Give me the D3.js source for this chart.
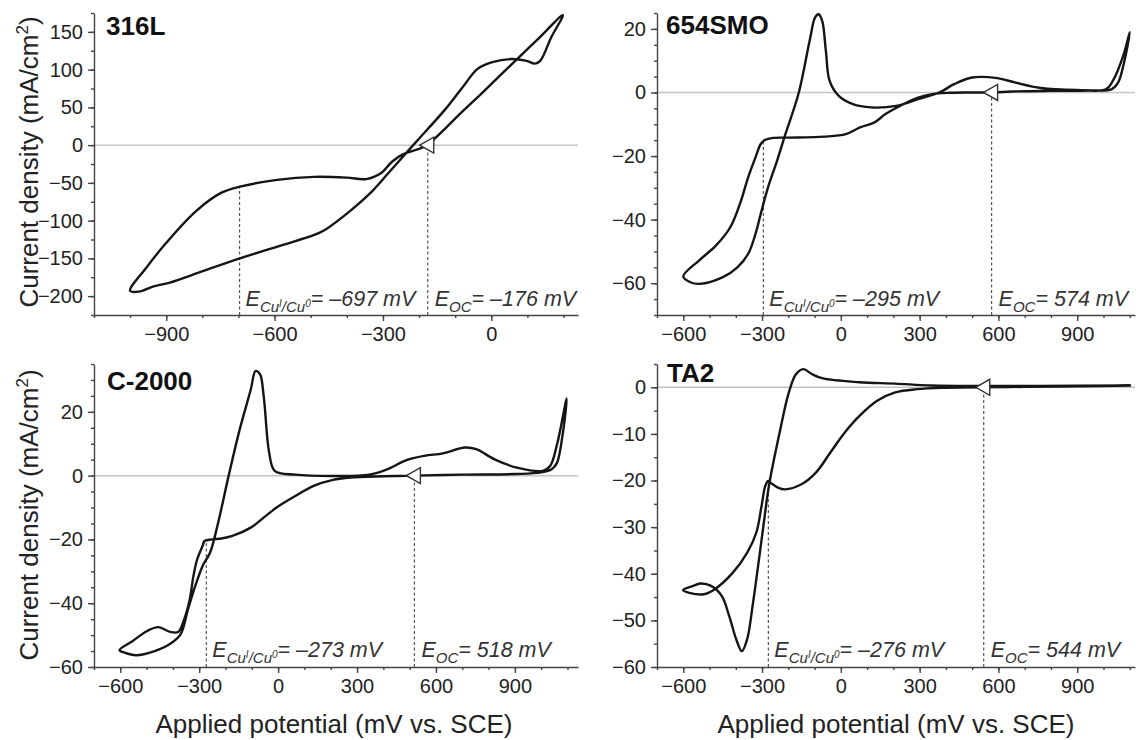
<!DOCTYPE html>
<html>
<head>
<meta charset="utf-8">
<script src="https://cdn.jsdelivr.net/npm/d3@7"></script>
<style>
  body { margin: 0; background: #fff; }
  svg { display: block; }
  text { font-family: Arial, "Liberation Sans", Helvetica, sans-serif; }
</style>
</head>
<body>
<svg width="1137" height="740"></svg>
<script>
// ---- data ----
var panelNames = ["316L", "654SMO", "C-2000", "TA2"];
var eCuValues = [-697, -295, -273, -276];       // mV
var eCuCurrents = [-55, -15, -20.5, -20.3];     // where the dashed line meets the curve
var eOcValues = [-176, 574, 518, 544];          // mV

var potential316L = [-176, -200, -244, -275, -305, -346, -400, -490, -593, -696, -747, -819, -901, -953, -1000,
  -976, -935, -890, -799, -696, -583, -490, -460, -388, -336, -285, -233, -203, -130, -79, -38, 3, 54, 95, 121, 136, 166, 198,
  126, 54, -28, -79, -130, -176];
var current316L = [0, -5, -12, -22, -37, -45, -43, -42, -46, -55, -63, -88, -130, -161, -193,
  -194, -187, -182, -167, -150, -133, -119, -112, -86, -64, -37, -9, 7, 46, 77, 101, 110, 114, 112, 108, 112, 143, 172,
  139, 106, 68, 45, 21, 0];

var potential654SMO = [574, 487, 417, 349, 294, 238, 170, 128, 73, 19, -64, -200, -257, -290, -305, -325, -353, -380, -421, -476, -538, -600,
  -573, -538, -449, -394, -353, -325, -305, -277, -243, -215, -160, -119, -98, -85, -71, -57, -43, -9, 46, 115, 211, 294, 376, 431, 500,
  596, 665, 761, 899, 1009, 1036, 1077, 1100, 1080, 1055, 1030, 950, 800, 650, 574];
var current654SMO = [0, 0, -0.1, -0.5, -1.6, -3.7, -6.8, -9.4, -11, -13.1, -13.9, -14.2, -14.3, -15, -16.2, -20.4, -26.7, -34, -42.4, -48.2, -52.7, -57.9,
  -59.7, -60.2, -58.1, -55, -50.8, -44.5, -38.2, -29.8, -21.5, -14.1, 0, 16.2, 23.6, 24.6, 22.5, 13.1, 3.7, -1, -3.7, -4.7, -4.2, -2.1, 0, 2.6, 4.7,
  4.5, 3.1, 1.4, 0.8, 1.0, 3.7, 12, 19, 10, 3, 1, 0.6, 0.5, 0.3, 0];

var potentialC2000 = [518, 400, 275, 205, 135, 65, -6, -48, -104, -174, -216, -252, -280, -287, -308, -322, -336, -357, -380, -410, -455, -498, -554, -603,
  -584, -540, -469, -413, -371, -343, -315, -287, -259, -231, -188, -146, -104, -86, -69, -55, -34, -13, 65, 205, 346, 415, 486, 556, 627, 710,
  753, 823, 908, 1006, 1034, 1062, 1097, 1080, 1060, 1040, 1000, 900, 700, 518];
var currentC2000 = [0, -0.2, -0.6, -1.4, -3.2, -6.4, -10, -12.7, -16.3, -18.9, -19.7, -20, -20.5, -22, -26.3, -31.5, -38.8, -45, -49, -49, -47.5, -48.7, -51.9, -54.7,
  -55.5, -56.3, -55, -52.9, -49.8, -42, -34.6, -28.3, -24.2, -15.8, 0, 14.5, 27, 32.8, 31.8, 25, 7.2, 1.5, 0.3, -0.1, 0.3, 2, 4.8, 6.2, 7, 8.8,
  8.3, 5.1, 2.5, 1.5, 3, 10.4, 24.2, 12, 4, 2, 1, 0.5, 0.3, 0];

var potentialTA2 = [544, 400, 290, 207, 138, 70, 15, -40, -95, -150, -212, -240, -267, -277, -288, -302, -322, -357, -412, -480, -522, -577, -601,
  -563, -535, -494, -453, -425, -398, -377, -357, -336, -315, -295, -274, -233, -198, -171, -143, -109, -68, 70, 207, 345, 544, 757, 1101,
  900, 700, 544];
var currentTA2 = [0, -0.1, -0.4, -1.1, -2.9, -6.2, -9.7, -14, -18.3, -20.8, -21.9, -21.5, -20.5, -20.1, -21.2, -25.5, -31.2, -35.5, -39.8, -43.3, -44.4, -44.1, -43.5,
  -42.6, -42.1, -42.6, -44.8, -49.1, -54.1, -56.6, -54.1, -46.9, -38.3, -29.8, -21.2, -9.7, -1.1, 2.8, 3.9, 2.8, 1.9, 1.1, 0.8, 0.4, 0.3, 0.3, 0.4,
  0.2, 0.1, 0];

var xTicks316L = [-900, -600, -300, 0];
var xTicksOther = [-600, -300, 0, 300, 600, 900];
var yTicks316L = [-200, -150, -100, -50, 0, 50, 100, 150];
var yTicks654SMO = [-60, -40, -20, 0, 20];
var yTicksC2000 = [-60, -40, -20, 0, 20];
var yTicksTA2 = [-60, -50, -40, -30, -20, -10, 0];

// ---- layout ----
var panels = [
  { x0: 94, x1: 578, y0: 13, y1: 315, xDom: [-1100, 240], yDom: [-225, 175], yStep: 25,
    xs: potential316L, ys: current316L, xTicks: xTicks316L, yTicks: yTicks316L, lab: [106, 35], annY: 306 },
  { x0: 657, x1: 1135, y0: 13, y1: 315, xDom: [-700, 1120], yDom: [-70, 25], yStep: 5,
    xs: potential654SMO, ys: current654SMO, xTicks: xTicksOther, yTicks: yTicks654SMO, lab: [666, 34], annY: 306 },
  { x0: 94, x1: 578, y0: 364, y1: 667, xDom: [-700, 1140], yDom: [-60, 35], yStep: 5,
    xs: potentialC2000, ys: currentC2000, xTicks: xTicksOther, yTicks: yTicksC2000, lab: [107, 390], annY: 657 },
  { x0: 657, x1: 1135, y0: 364, y1: 667, xDom: [-700, 1120], yDom: [-60, 5], yStep: 5,
    xs: potentialTA2, ys: currentTA2, xTicks: xTicksOther, yTicks: yTicksTA2, lab: [667, 382], annY: 657 }
];

var svg = d3.select("svg");
var axisColor = "#444";

panels.forEach(function(p, i) {
  var x = d3.scaleLinear().domain(p.xDom).range([p.x0, p.x1]);
  var y = d3.scaleLinear().domain(p.yDom).range([p.y1, p.y0]);
  var g = svg.append("g");

  // zero line
  g.append("line")
    .attr("x1", p.x0).attr("x2", p.x1)
    .attr("y1", y(0)).attr("y2", y(0))
    .attr("stroke", "#c4c4c4").attr("stroke-width", 1.5);

  // minor ticks
  var xMinor = d3.range(Math.ceil(p.xDom[0] / 100) * 100, p.xDom[1] + 1, 100);
  var yMinor = d3.range(Math.ceil(p.yDom[0] / p.yStep) * p.yStep, p.yDom[1] + 0.01, p.yStep);
  g.append("g").attr("transform", "translate(0," + p.y1 + ")")
    .call(d3.axisBottom(x).tickValues(xMinor).tickSize(3).tickSizeOuter(0).tickFormat(""))
    .call(function(s) { s.select(".domain").remove(); });
  g.append("g").attr("transform", "translate(" + p.x0 + ",0)")
    .call(d3.axisLeft(y).tickValues(yMinor).tickSize(3).tickSizeOuter(0).tickFormat(""))
    .call(function(s) { s.select(".domain").remove(); });

  // main axes
  var fmt = function(d) { return d < 0 ? "\u2212" + Math.abs(d) : String(d); };
  g.append("g").attr("transform", "translate(0," + p.y1 + ")")
    .call(d3.axisBottom(x).tickValues(p.xTicks).tickSize(6).tickPadding(6).tickSizeOuter(0).tickFormat(fmt));
  g.append("g").attr("transform", "translate(" + p.x0 + ",0)")
    .call(d3.axisLeft(y).tickValues(p.yTicks).tickSize(6).tickPadding(5).tickSizeOuter(0).tickFormat(fmt));
  g.selectAll(".domain, .tick line").attr("stroke", axisColor).attr("stroke-width", 1.4);
  g.selectAll(".tick text").attr("font-size", 20).attr("fill", "#222")
    .style("font-family", "Arial, 'Liberation Sans', sans-serif");

  // dashed guide lines
  var dash = g.append("g").attr("stroke", "#555").attr("stroke-width", 1.2).attr("stroke-dasharray", "3,2.5");
  dash.append("line").attr("x1", x(eCuValues[i])).attr("x2", x(eCuValues[i]))
    .attr("y1", p.y1).attr("y2", y(eCuCurrents[i]));
  dash.append("line").attr("x1", x(eOcValues[i])).attr("x2", x(eOcValues[i]))
    .attr("y1", p.y1).attr("y2", y(0));

  // curve
  var line = d3.line()
    .x(function(d) { return x(d[0]); })
    .y(function(d) { return y(d[1]); })
    .curve(d3.curveCatmullRom.alpha(0.5));
  g.append("path").datum(d3.zip(p.xs, p.ys))
    .attr("d", line)
    .attr("fill", "none").attr("stroke", "#151515").attr("stroke-width", 2.4)
    .attr("stroke-linejoin", "round");

  // open arrow at the open-circuit potential
  var cx = x(eOcValues[i]), cy = y(0);
  g.append("path")
    .attr("d", "M" + (cx - 8) + "," + cy + "L" + (cx + 6) + "," + (cy - 8) + "L" + (cx + 6) + "," + (cy + 8) + "Z")
    .attr("fill", "#fff").attr("stroke", "#333").attr("stroke-width", 1.4);

  // panel label
  g.append("text").attr("x", p.lab[0]).attr("y", p.lab[1])
    .attr("font-size", 26).attr("font-weight", "bold").attr("fill", "#111")
    .text(panelNames[i]);

  // annotations
  var t1 = g.append("text").attr("x", x(eCuValues[i]) + 6).attr("y", p.annY)
    .attr("font-size", 21.5).attr("font-style", "italic").attr("fill", "#333");
  t1.append("tspan").text("E");
  t1.append("tspan").attr("dy", 5.5).attr("font-size", 15).text("Cu");
  t1.append("tspan").attr("dy", -5).attr("font-size", 10).text("I");
  t1.append("tspan").attr("dy", 5).attr("font-size", 15).text("/Cu");
  t1.append("tspan").attr("dy", -5).attr("font-size", 10).text("0");
  t1.append("tspan").attr("dy", -0.5).text("= \u2013" + Math.abs(eCuValues[i]) + " mV");

  var oc = eOcValues[i];
  var t2 = g.append("text").attr("x", x(oc) + 7).attr("y", p.annY)
    .attr("font-size", 21.5).attr("font-style", "italic").attr("fill", "#333");
  t2.append("tspan").text("E");
  t2.append("tspan").attr("dy", 5.5).attr("font-size", 15).text("OC");
  t2.append("tspan").attr("dy", -5.5).text("= " + (oc < 0 ? "\u2013" : "") + Math.abs(oc) + " mV");
});

// axis titles
function yTitle(cx, cy) {
  var t = svg.append("text").attr("transform", "translate(" + cx + "," + cy + ") rotate(-90)")
    .attr("text-anchor", "middle").attr("font-size", 26).attr("fill", "#222");
  t.append("tspan").text("Current density (mA/cm");
  t.append("tspan").attr("dy", -10).attr("font-size", 17).text("2");
  t.append("tspan").attr("dy", 10).text(")");
}
yTitle(38, 162);
yTitle(38, 515);

function xTitle(cx) {
  svg.append("text").attr("x", cx).attr("y", 733).attr("text-anchor", "middle")
    .attr("font-size", 26).attr("fill", "#222").text("Applied potential (mV vs. SCE)");
}
xTitle(334);
xTitle(896);
</script>
</body>
</html>
